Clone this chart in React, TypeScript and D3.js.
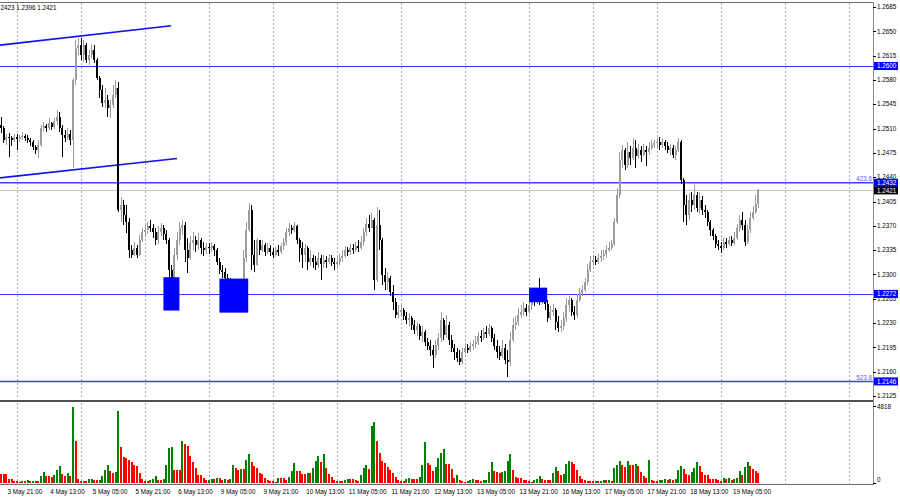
import * as d3 from 'd3';
import { type FC } from 'react';

// H1 bars, 3 May 18:00 .. 19 May 14:00 (weekends skipped)
const days = ['3 May', '4 May', '5 May', '6 May', '9 May', '10 May', '11 May', '12 May', '13 May', '16 May', '17 May', '18 May', '19 May'];
const firstHour = 18;

// prices in points above 1.0000 (2511 -> 1.2511); open = previous close
const firstOpen = 2515;
const close = [
  2511, 2493, 2498, 2496, 2493, 2498, 2495, 2498, 2499, 2496,
  2493, 2491, 2483, 2479, 2486, 2511, 2514, 2511, 2518, 2512,
  2521, 2527, 2511, 2501, 2496, 2502, 2493, 2580, 2626, 2630,
  2616, 2630, 2609, 2616, 2623, 2609, 2583, 2565, 2547, 2551,
  2540, 2544, 2558, 2568, 2393, 2400, 2385, 2375, 2335, 2328,
  2338, 2328, 2349, 2361, 2364, 2370, 2367, 2361, 2349, 2361,
  2367, 2358, 2349, 2306, 2280, 2328, 2349, 2367, 2371, 2335,
  2324, 2345, 2349, 2342, 2349, 2338, 2335, 2339, 2338, 2341,
  2335, 2318, 2306, 2303, 2295, 2289, 2280, 2285, 2266, 2280,
  2270, 2324, 2364, 2393, 2328, 2313, 2349, 2335, 2342, 2332,
  2338, 2332, 2328, 2335, 2332, 2341, 2347, 2361, 2367, 2364,
  2370, 2349, 2338, 2328, 2338, 2318, 2324, 2318, 2313, 2324,
  2315, 2321, 2318, 2324, 2318, 2315, 2318, 2324, 2326, 2335,
  2332, 2338, 2335, 2341, 2338, 2347, 2361, 2372, 2367, 2378,
  2292, 2371, 2349, 2299, 2289, 2295, 2275, 2260, 2241, 2246,
  2249, 2240, 2234, 2237, 2227, 2220, 2226, 2211, 2217, 2203,
  2197, 2191, 2184, 2198, 2208, 2234, 2213, 2227, 2205, 2194,
  2188, 2180, 2174, 2188, 2194, 2191, 2197, 2200, 2203, 2211,
  2208, 2217, 2214, 2223, 2208, 2197, 2188, 2182, 2194, 2177,
  2174, 2205, 2227, 2231, 2241, 2246, 2252, 2246, 2256, 2263,
  2260, 2269, 2263, 2266, 2257, 2237, 2246, 2249, 2231, 2223,
  2226, 2237, 2256, 2263, 2246, 2241, 2263, 2273, 2277, 2289,
  2306, 2318, 2321, 2318, 2324, 2326, 2329, 2335, 2338, 2344,
  2375, 2414, 2465, 2479, 2457, 2476, 2468, 2482, 2470, 2479,
  2472, 2479, 2476, 2482, 2486, 2489, 2491, 2486, 2491, 2485,
  2479, 2482, 2472, 2479, 2491, 2436, 2400, 2385, 2407, 2400,
  2414, 2396, 2407, 2393, 2390, 2375, 2364, 2355, 2344, 2341,
  2338, 2347, 2344, 2349, 2345, 2352, 2367, 2378, 2371, 2347,
  2364, 2381, 2390, 2401, 2421,
];
const high = [
  2527, 2514, 2502, 2504, 2499, 2502, 2502, 2501, 2505, 2502,
  2501, 2496, 2493, 2486, 2493, 2515, 2519, 2516, 2525, 2519,
  2525, 2537, 2534, 2515, 2508, 2511, 2508, 2583, 2637, 2640,
  2640, 2637, 2633, 2623, 2632, 2630, 2612, 2586, 2573, 2568,
  2558, 2551, 2573, 2580, 2577, 2411, 2407, 2400, 2381, 2342,
  2347, 2342, 2357, 2367, 2371, 2375, 2378, 2372, 2367, 2370,
  2374, 2371, 2364, 2352, 2313, 2338, 2361, 2375, 2378, 2375,
  2352, 2355, 2361, 2355, 2360, 2352, 2347, 2345, 2345, 2347,
  2344, 2338, 2324, 2313, 2309, 2300, 2295, 2292, 2288, 2289,
  2285, 2335, 2375, 2403, 2400, 2349, 2352, 2349, 2349, 2345,
  2345, 2342, 2338, 2339, 2342, 2345, 2352, 2367, 2374, 2371,
  2375, 2371, 2352, 2347, 2344, 2341, 2335, 2328, 2326, 2332,
  2328, 2328, 2326, 2329, 2328, 2324, 2326, 2329, 2335, 2341,
  2339, 2344, 2344, 2347, 2349, 2355, 2367, 2381, 2385, 2388,
  2381, 2397, 2393, 2352, 2309, 2303, 2298, 2285, 2266, 2256,
  2256, 2252, 2246, 2244, 2240, 2234, 2231, 2228, 2226, 2220,
  2208, 2205, 2198, 2205, 2216, 2246, 2237, 2241, 2231, 2213,
  2200, 2194, 2191, 2194, 2200, 2200, 2203, 2205, 2211, 2217,
  2220, 2223, 2226, 2228, 2226, 2214, 2205, 2197, 2205, 2200,
  2191, 2217, 2237, 2240, 2252, 2256, 2260, 2257, 2263, 2269,
  2272, 2277, 2295, 2277, 2270, 2263, 2254, 2257, 2252, 2240,
  2234, 2246, 2266, 2269, 2266, 2254, 2272, 2280, 2285, 2295,
  2315, 2326, 2328, 2326, 2329, 2335, 2335, 2342, 2347, 2349,
  2381, 2424, 2476, 2486, 2482, 2491, 2485, 2496, 2493, 2488,
  2485, 2488, 2485, 2491, 2493, 2493, 2496, 2498, 2496, 2493,
  2491, 2488, 2486, 2485, 2496, 2493, 2439, 2414, 2417, 2419,
  2429, 2419, 2419, 2413, 2400, 2393, 2378, 2367, 2358, 2349,
  2347, 2352, 2352, 2355, 2355, 2361, 2372, 2385, 2390, 2378,
  2371, 2390, 2398, 2414, 2423,
];
const low = [
  2504, 2489, 2486, 2469, 2485, 2491, 2479, 2491, 2493, 2492,
  2489, 2485, 2479, 2473, 2468, 2483, 2506, 2505, 2508, 2508,
  2509, 2515, 2505, 2469, 2491, 2493, 2486, 2453, 2573, 2616,
  2609, 2606, 2604, 2601, 2612, 2604, 2580, 2554, 2541, 2540,
  2527, 2525, 2540, 2554, 2390, 2375, 2371, 2360, 2324, 2324,
  2326, 2324, 2326, 2347, 2355, 2358, 2361, 2352, 2342, 2344,
  2355, 2349, 2344, 2275, 2273, 2277, 2321, 2342, 2357, 2318,
  2302, 2321, 2335, 2332, 2335, 2329, 2326, 2329, 2329, 2332,
  2326, 2313, 2300, 2295, 2289, 2277, 2273, 2266, 2260, 2263,
  2263, 2266, 2318, 2361, 2306, 2303, 2312, 2328, 2332, 2326,
  2329, 2326, 2324, 2325, 2326, 2329, 2335, 2342, 2355, 2358,
  2361, 2344, 2318, 2309, 2318, 2306, 2312, 2309, 2306, 2309,
  2292, 2309, 2309, 2315, 2312, 2306, 2309, 2313, 2318, 2324,
  2326, 2328, 2329, 2332, 2332, 2335, 2341, 2355, 2361, 2367,
  2277, 2289, 2335, 2285, 2277, 2277, 2269, 2249, 2237, 2237,
  2240, 2234, 2228, 2226, 2220, 2214, 2211, 2205, 2203, 2197,
  2191, 2182, 2165, 2180, 2191, 2203, 2205, 2208, 2198, 2188,
  2177, 2174, 2169, 2171, 2185, 2187, 2188, 2191, 2194, 2198,
  2203, 2205, 2208, 2211, 2203, 2191, 2180, 2177, 2180, 2171,
  2152, 2168, 2203, 2220, 2226, 2237, 2240, 2240, 2243, 2249,
  2254, 2257, 2256, 2257, 2249, 2231, 2234, 2240, 2220, 2217,
  2217, 2220, 2231, 2246, 2240, 2234, 2237, 2260, 2269, 2275,
  2285, 2303, 2312, 2313, 2315, 2318, 2321, 2324, 2332, 2335,
  2341, 2372, 2410, 2453, 2450, 2453, 2457, 2465, 2453, 2468,
  2462, 2470, 2456, 2472, 2479, 2482, 2482, 2479, 2482, 2479,
  2475, 2472, 2468, 2465, 2476, 2430, 2375, 2371, 2378, 2390,
  2393, 2390, 2387, 2385, 2381, 2370, 2355, 2349, 2338, 2335,
  2331, 2335, 2338, 2341, 2341, 2342, 2349, 2361, 2364, 2341,
  2344, 2360, 2378, 2387, 2396,
];
const volume = [
  590, 580, 560, 260, 240, 120, 110, 90, 140, 120,
  160, 130, 140, 110, 100, 460, 670, 420, 410, 400,
  480, 840, 1050, 590, 410, 620, 420, 4818, 2630, 250,
  150, 140, 120, 270, 280, 200, 160, 210, 460, 800,
  1155, 735, 630, 700, 4515, 2270, 1640, 1580, 1470, 1300,
  1150, 1100, 630, 250, 150, 120, 200, 270, 420, 210,
  170, 280, 1150, 2200, 2250, 840, 820, 800, 2625, 2480,
  2350, 1720, 1300, 930, 530, 500, 290, 180, 190, 250,
  230, 300, 290, 170, 250, 220, 280, 1150, 920, 800,
  900, 870, 1470, 1830, 1350, 1100, 960, 660, 560, 320,
  180, 140, 100, 90, 330, 320, 300, 200, 350, 740,
  1260, 780, 760, 580, 550, 620, 600, 960, 1365, 1680,
  1300, 1830, 930, 560, 400, 200, 150, 130, 110, 180,
  260, 240, 230, 160, 140, 525, 940, 1130, 900, 3570,
  3820, 2625, 1890, 1360, 1260, 1000, 840, 600, 350, 210,
  120, 100, 280, 290, 260, 250, 240, 400, 1155, 2580,
  1260, 1150, 760, 1030, 1575, 1890, 2140, 1220, 1180, 900,
  330, 525, 180, 100, 80, 150, 190, 260, 200, 180,
  140, 170, 200, 670, 1320, 780, 670, 630, 680, 740,
  1365, 1830, 830, 360, 340, 310, 200, 160, 100, 80,
  210, 260, 420, 280, 190, 170, 160, 630, 990, 735,
  530, 590, 1200, 1370, 1310, 1190, 840, 420, 250, 200,
  150, 120, 100, 130, 120, 150, 200, 160, 180, 150,
  940, 1150, 1400, 1150, 1000, 1400, 1150, 1120, 1180, 1050,
  670, 420, 300, 1470, 160, 120, 100, 170, 200, 250,
  180, 250, 200, 230, 840, 1090, 860, 580, 500, 700,
  930, 1350, 1100, 700, 530, 480, 280, 250, 240, 160,
  110, 330, 250, 290, 180, 240, 320, 730, 500, 1000,
  1300, 1090, 900, 740, 600,
];

const priceTicks = [1.2125, 1.216, 1.2195, 1.223, 1.2265, 1.23, 1.2335, 1.237, 1.2405, 1.244, 1.2475, 1.251, 1.2545, 1.258, 1.2615, 1.265, 1.2685];
const volumeMax = 4818;
const levelPrices = [1.26, 1.2272];
const fiboLevels: [string, number][] = [['423.6', 1.2432], ['523.6', 1.2146]];
const bidPrice = 1.2421;
const ohlcText = '2423 1.2396 1.2421';
// trend channel, [bar index, price]
const channelUpper: [number, number][] = [[-0.5, 1.263], [63.8, 1.2658]];
const channelLower: [number, number][] = [[-0.5, 1.2439], [66, 1.2467]];
// marked zones: bar index from/to, price top/bottom
const zones = [
  { from: 60.9, to: 66.9, top: 1.2296, bottom: 1.2248 },
  { from: 81.9, to: 92.7, top: 1.2294, bottom: 1.2245 },
  { from: 198, to: 204.8, top: 1.2281, bottom: 1.226 },
];
const labelStart = 3;
const labelStep = 16;

const W = 900;
const H = 499;
const plotRight = 873;
const font = '"Liberation Sans", Arial, sans-serif';
const fs = 6.3;

const toPrice = (v: number) => 1 + v / 10000;
const pad = (n: number) => (n < 10 ? `0${n}` : `${n}`);

const App: FC = () => {
  const n = close.length;
  const x = d3.scaleLinear([0, n - 1], [1, 758.4]);
  const y = d3.scaleLinear([1.2125, 1.2685], [396, 7]);
  const yv = d3.scaleLinear([0, volumeMax], [483, 406.5]);

  const bars = close.map((c, i) => {
    const o = i === 0 ? firstOpen : close[i - 1];
    return { i, o: toPrice(o), c: toPrice(c), h: toPrice(high[i]), l: toPrice(low[i]) };
  });

  const timeOf = (i: number) => {
    const abs = firstHour + i;
    return `${days[Math.floor(abs / 24)]} ${pad(abs % 24)}:00`;
  };
  const labels = d3.range(labelStart, n, labelStep);
  const dayStarts: number[] = [];
  for (let k = 24 - firstHour; x(k) < plotRight; k += 24) dayStarts.push(k);

  const line = d3.line<[number, number]>((d) => x(d[0]), (d) => y(d[1]));
  const bull = '#9c9c9c';
  const bear = '#000000';
  const blue = '#0000ff';

  return (
    <svg width={W} height={H} viewBox={`0 0 ${W} ${H}`} style={{ position: 'absolute', left: 0, top: 0, display: 'block' }}>
      <rect width={W} height={H} fill='#ffffff' />

      {/* day grid */}
      <g stroke='#a8a8a8' strokeWidth={1} strokeDasharray='2,2' shapeRendering='crispEdges'>
        {dayStarts.map((k) => (
          <g key={k}>
            <line x1={Math.round(x(k)) + 0.5} x2={Math.round(x(k)) + 0.5} y1={3} y2={399} />
            <line x1={Math.round(x(k)) + 0.5} x2={Math.round(x(k)) + 0.5} y1={403} y2={484} />
          </g>
        ))}
      </g>

      {/* horizontal levels */}
      <line x1={0} x2={plotRight} y1={Math.round(y(bidPrice)) + 0.5} y2={Math.round(y(bidPrice)) + 0.5} stroke='#c4c4c4' strokeWidth={1} />
      {levelPrices.map((p) => (
        <line key={p} x1={0} x2={plotRight} y1={Math.round(y(p)) + 0.5} y2={Math.round(y(p)) + 0.5} stroke='#3030ff' strokeWidth={1} />
      ))}
      {fiboLevels.map(([t, p]) => (
        <g key={t}>
          <line x1={0} x2={plotRight} y1={y(p)} y2={y(p)} stroke='#4040ff' strokeWidth={1.5} />
          <text x={plotRight - 1} y={y(p) - 1.5} textAnchor='end' fontFamily={font} fontSize={fs} fill='#5a5aff'>
            {t}
          </text>
        </g>
      ))}

      {/* channel */}
      <path d={line(channelUpper) ?? undefined} stroke='#1010f0' strokeWidth={1.6} fill='none' />
      <path d={line(channelLower) ?? undefined} stroke='#1010f0' strokeWidth={1.6} fill='none' />

      {/* candles */}
      <g shapeRendering='crispEdges'>
        {bars.map((b) => {
          const up = b.c >= b.o;
          const col = up ? bull : bear;
          const cx = x(b.i);
          const top = y(Math.max(b.o, b.c));
          const bh = Math.max(1, Math.abs(y(b.o) - y(b.c)));
          return (
            <g key={b.i}>
              <line x1={cx} x2={cx} y1={y(b.h)} y2={y(b.l)} stroke={col} strokeWidth={1} />
              <rect x={cx - 1} y={top} width={2} height={bh} fill={col} />
            </g>
          );
        })}
      </g>

      {/* zones */}
      {zones.map((z, k) => (
        <rect key={k} x={x(z.from)} y={y(z.top)} width={x(z.to) - x(z.from)} height={y(z.bottom) - y(z.top)} fill={blue} />
      ))}

      {/* volumes */}
      <g shapeRendering='crispEdges'>
        {volume.map((v, i) => {
          const up = i === 0 ? false : v > volume[i - 1];
          return (
            <rect key={i} x={x(i) - 1} y={yv(v)} width={2} height={yv(0) - yv(v)} fill={up ? '#008000' : '#ff0000'} />
          );
        })}
      </g>

      {/* frame */}
      <g shapeRendering='crispEdges'>
        <line x1={0} x2={plotRight} y1={2.5} y2={2.5} stroke='#6e6e6e' />
        <line x1={plotRight + 0.5} x2={plotRight + 0.5} y1={2} y2={485} stroke='#8a8a8a' />
        <line x1={0} x2={plotRight} y1={401} y2={401} stroke='#505050' strokeWidth={2} />
        <line x1={0} x2={plotRight} y1={484.5} y2={484.5} stroke='#6e6e6e' />
      </g>

      {/* price axis */}
      <g fontFamily={font} fontSize={fs} fill='#000'>
        {priceTicks.map((p) => (
          <g key={p}>
            <line x1={plotRight} x2={plotRight + 3} y1={Math.round(y(p)) + 0.5} y2={Math.round(y(p)) + 0.5} stroke='#000' />
            <text x={877} y={y(p) + 2.2}>
              {p.toFixed(4)}
            </text>
          </g>
        ))}
        <line x1={plotRight} x2={plotRight + 3} y1={406.5} y2={406.5} stroke='#000' />
        <text x={877} y={409}>
          {volumeMax}
        </text>
        <line x1={plotRight} x2={plotRight + 3} y1={483.5} y2={483.5} stroke='#000' />
        <text x={877} y={482}>
          0
        </text>
      </g>

      {/* price markers */}
      <g fontFamily={font} fontSize={fs}>
        {[...levelPrices, ...fiboLevels.map((f) => f[1])].map((p) => (
          <g key={p}>
            <rect x={plotRight + 1} y={y(p) - 4} width={24} height={8} fill={blue} />
            <text x={877} y={y(p) + 2.2} fill='#ffffff'>
              {p.toFixed(4)}
            </text>
          </g>
        ))}
        <rect x={plotRight + 1} y={y(bidPrice) - 4} width={24} height={8} fill='#000' />
        <text x={877} y={y(bidPrice) + 2.2} fill='#ffffff'>
          {bidPrice.toFixed(4)}
        </text>
      </g>

      {/* time axis */}
      <g fontFamily={font} fontSize={fs} fill='#000'>
        {labels.map((i) => (
          <text key={i} x={x(i) - 1.5} y={494}>
            {timeOf(i)}
          </text>
        ))}
      </g>

      <text x={0.5} y={9.5} fontFamily={font} fontSize={fs} fill='#000'>
        {ohlcText}
      </text>
    </svg>
  );
};

export default App;
